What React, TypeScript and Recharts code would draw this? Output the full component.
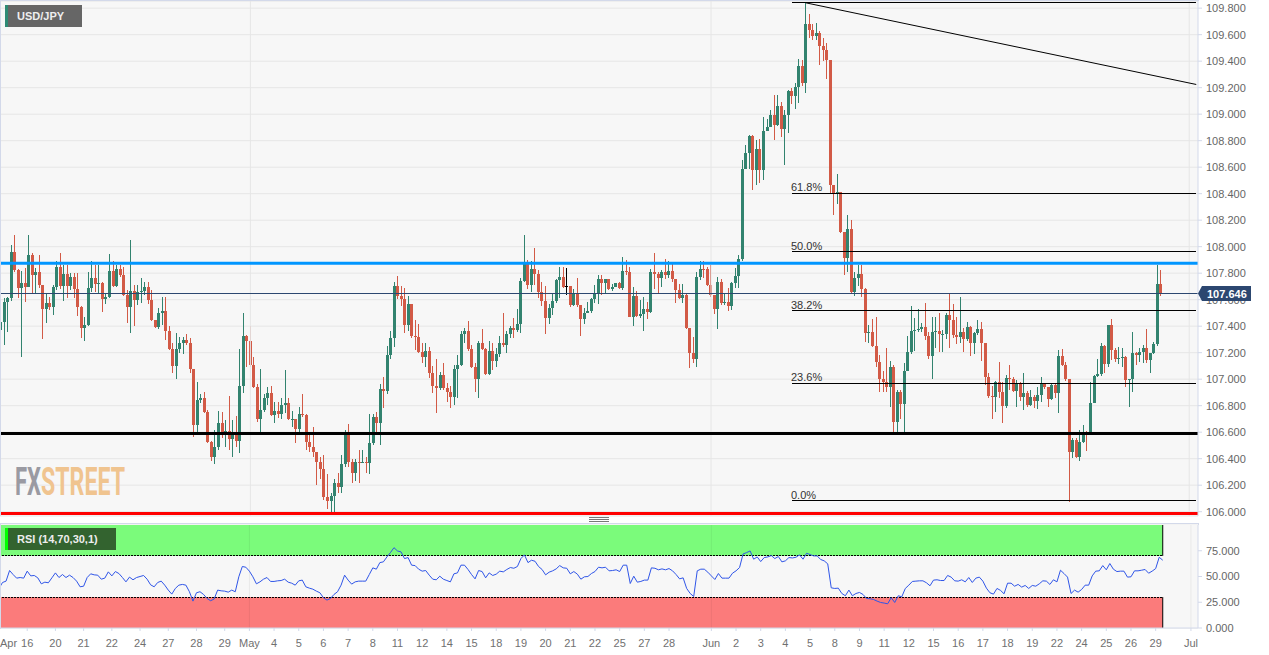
import React from "react";
import {
  Bar,
  CartesianGrid,
  ComposedChart,
  Line,
  ReferenceArea,
  ReferenceLine,
  XAxis,
  YAxis,
} from "recharts";

const firstOpen = 107.371;

const closes = [
  107.429, 107.585, 107.615, 107.962, 107.824, 107.686, 107.723, 107.698, 107.937, 107.786,
  107.806, 107.711, 107.527, 107.578, 107.542, 107.698, 107.844, 107.703, 107.791, 107.703,
  107.769, 107.678, 107.547, 107.384, 107.409, 107.686, 107.761, 107.718, 107.728, 107.603,
  107.618, 107.814, 107.703, 107.829, 107.786, 107.635, 107.542, 107.668, 107.598, 107.661,
  107.668, 107.698, 107.598, 107.447, 107.396, 107.497, 107.515, 107.364, 107.225, 107.099,
  107.225, 107.276, 107.296, 107.276, 107.074, 106.654, 106.843, 106.856, 106.755, 106.528,
  106.41, 106.486, 106.672, 106.604, 106.612, 106.546, 106.591, 106.531, 106.951, 107.329,
  107.286, 107.11, 106.944, 106.697, 106.767, 106.856, 106.898, 106.73, 106.76, 106.737,
  106.805, 106.818, 106.697, 106.702, 106.624, 106.735, 106.73, 106.523, 106.486, 106.453,
  106.372, 106.32, 106.108, 106.08, 106.12, 106.219, 106.184, 106.357, 106.578, 106.372,
  106.294, 106.372, 106.365, 106.372, 106.365, 106.516, 106.712, 106.667, 106.923, 106.913,
  107.18, 107.308, 107.703, 107.628, 107.603, 107.409, 107.567, 107.326, 107.321, 107.203,
  107.17, 107.215, 107.049, 106.951, 106.931, 107.029, 106.936, 106.906, 106.868, 107.074,
  107.104, 107.338, 107.361, 107.225, 107.094, 106.999, 107.276, 107.228, 107.037, 107.215,
  107.137, 107.187, 107.276, 107.258, 107.338, 107.384, 107.371, 107.416, 107.744, 107.887,
  107.711, 107.829, 107.791, 107.655, 107.593, 107.459, 107.54, 107.593, 107.749, 107.774,
  107.698, 107.703, 107.56, 107.648, 107.56, 107.452, 107.502, 107.515, 107.605, 107.64,
  107.754, 107.723, 107.754, 107.681, 107.698, 107.723, 107.686, 107.819, 107.809, 107.472,
  107.63, 107.477, 107.492, 107.527, 107.51, 107.811, 107.796, 107.761, 107.811, 107.786,
  107.819, 107.754, 107.673, 107.615, 107.635, 107.389, 107.2, 107.15, 107.769, 107.834,
  107.829, 107.711, 107.635, 107.527, 107.731, 107.572, 107.58, 107.555, 107.723, 107.781,
  107.905, 108.588, 108.707, 108.832, 108.581, 108.739, 108.581, 108.873, 108.903, 108.996,
  108.915, 109.061, 108.89, 108.996, 109.172, 109.137, 109.205, 109.363, 109.235, 109.683,
  109.633, 109.59, 109.612, 109.512, 109.487, 109.411, 108.468, 108.4, 108.412, 108.108,
  107.917, 108.136, 107.657, 107.766, 107.796, 107.683, 107.346, 107.359, 107.25, 107.127,
  107.001, 106.981, 106.939, 107.089, 106.679, 106.9, 106.813, 107.064, 107.203, 107.364,
  107.371, 107.379, 107.391, 107.326, 107.175, 107.354, 107.364, 107.338, 107.341, 107.485,
  107.447, 107.333, 107.321, 107.359, 107.301, 107.396, 107.271, 107.346, 107.376, 107.271,
  107.019, 106.875, 106.868, 106.981, 106.906, 106.798, 107.011, 107.004, 106.913, 106.974,
  106.868, 106.898, 106.805, 106.868, 106.838, 106.88, 106.961, 106.939, 106.848, 106.954,
  106.898, 107.175, 107.107, 106.999, 106.453, 106.541, 106.415, 106.528, 106.604, 106.601,
  106.823, 107.027, 107.037, 107.25, 107.115, 107.406, 107.22, 107.15, 107.157, 107.165,
  106.994, 106.999, 107.195, 107.185, 107.208, 107.233, 107.145, 107.195, 107.263, 107.716,
  107.646,
];

const highs = [
  107.52, 107.61, 107.62, 108.01, 108.09, 107.83, 107.82, 107.84, 108.09, 107.95,
  107.84, 107.94, 107.71, 107.65, 107.62, 107.71, 107.89, 107.95, 107.86, 107.86,
  107.8, 107.8, 107.8, 107.55, 107.47, 107.81, 107.895, 107.86, 107.86, 107.73,
  107.65, 107.945, 107.89, 107.86, 107.86, 107.85, 107.67, 108.05, 107.71, 107.71,
  107.76, 107.735, 107.735, 107.67, 107.45, 107.535, 107.62, 107.62, 107.4, 107.27,
  107.35, 107.32, 107.315, 107.34, 107.31, 107.075, 106.975, 106.89, 106.9, 106.77,
  106.535, 106.62, 106.76, 106.755, 106.695, 106.875, 106.69, 106.725, 107.225, 107.5,
  107.33, 107.4, 107.165, 106.96, 107.08, 106.89, 106.94, 106.945, 106.83, 106.83,
  106.855, 107.07, 106.855, 106.76, 106.7, 106.79, 106.89, 106.74, 106.58, 106.64,
  106.45, 106.41, 106.43, 106.285, 106.14, 106.25, 106.295, 106.43, 106.62, 106.66,
  106.4, 106.4, 106.465, 106.465, 106.415, 106.74, 106.735, 106.755, 106.964, 107.014,
  107.25, 107.36, 107.735, 107.775, 107.7, 107.685, 107.63, 107.567, 107.45, 107.42,
  107.27, 107.27, 107.24, 107.1, 107.15, 107.057, 107.12, 106.97, 106.945, 107.107,
  107.18, 107.365, 107.385, 107.44, 107.26, 107.12, 107.285, 107.376, 107.234, 107.29,
  107.276, 107.234, 107.326, 107.5, 107.36, 107.4, 107.46, 107.527, 107.76, 108.09,
  107.9, 107.89, 107.99, 107.824, 107.735, 107.7, 107.567, 107.648, 107.754, 107.85,
  107.85, 107.836, 107.7, 107.678, 107.76, 107.56, 107.54, 107.585, 107.61, 107.71,
  107.786, 107.786, 107.754, 107.754, 107.718, 107.728, 107.735, 107.92, 107.9, 107.844,
  107.693, 107.665, 107.6, 107.62, 107.58, 107.83, 107.95, 107.81, 107.824, 107.905,
  107.895, 107.874, 107.754, 107.716, 107.716, 107.645, 107.39, 107.315, 107.81, 107.89,
  107.895, 107.844, 107.86, 107.635, 107.77, 107.754, 107.648, 107.686, 107.736, 107.84,
  107.937, 108.656, 108.77, 108.84, 108.845, 108.802, 108.815, 108.978, 108.966, 109.034,
  109.147, 109.147, 109.092, 109.029, 109.185, 109.2, 109.235, 109.419, 109.406, 109.85,
  109.758, 109.683, 109.69, 109.628, 109.577, 109.537, 109.411, 108.468, 108.546, 108.412,
  108.108, 108.241, 108.198, 107.808, 107.859, 107.859, 107.686, 107.409, 107.452, 107.467,
  107.182, 107.064, 107.233, 107.14, 107.107, 106.918, 106.918, 107.12, 107.326, 107.552,
  107.459, 107.527, 107.427, 107.572, 107.359, 107.467, 107.467, 107.497, 107.371, 107.497,
  107.643, 107.567, 107.467, 107.618, 107.384, 107.434, 107.401, 107.359, 107.447, 107.434,
  107.271, 107.049, 106.949, 106.989, 107.127, 106.981, 107.032, 107.107, 107.019, 106.994,
  106.981, 107.044, 106.91, 106.918, 106.88, 106.944, 107.019, 106.969, 106.944, 106.964,
  106.964, 107.22, 107.225, 107.132, 106.994, 106.553, 106.553, 106.617, 106.654, 106.606,
  106.981, 107.032, 107.15, 107.271, 107.258, 107.409, 107.452, 107.233, 107.245, 107.233,
  107.175, 106.999, 107.359, 107.208, 107.233, 107.258, 107.376, 107.2, 107.283, 107.862,
  107.824,
];

const lows = [
  107.371, 107.258, 107.359, 107.593, 107.811, 107.61, 107.17, 107.585, 107.693, 107.648,
  107.648, 107.686, 107.301, 107.427, 107.522, 107.485, 107.673, 107.678, 107.593, 107.61,
  107.673, 107.61, 107.477, 107.308, 107.288, 107.404, 107.661, 107.661, 107.648, 107.51,
  107.565, 107.61, 107.698, 107.698, 107.774, 107.63, 107.422, 107.346, 107.404, 107.56,
  107.572, 107.635, 107.567, 107.442, 107.384, 107.376, 107.409, 107.296, 107.22, 107.049,
  106.999, 107.195, 107.19, 107.258, 107.044, 106.561, 106.604, 106.818, 106.747, 106.516,
  106.385, 106.357, 106.466, 106.553, 106.491, 106.466, 106.41, 106.491, 106.445, 106.893,
  107.094, 107.089, 106.931, 106.679, 106.604, 106.755, 106.805, 106.725, 106.667, 106.705,
  106.697, 106.742, 106.692, 106.642, 106.516, 106.604, 106.717, 106.466, 106.453, 106.415,
  106.201, 106.244, 106.088, 106.018, 106.0, 106.0, 106.144, 106.139, 106.34, 106.34,
  106.219, 106.232, 106.219, 106.365, 106.294, 106.284, 106.503, 106.604, 106.503, 106.78,
  106.888, 107.15, 107.24, 107.603, 107.552, 107.346, 107.366, 107.308, 107.22, 107.195,
  107.125, 107.089, 107.006, 106.898, 106.742, 106.918, 106.918, 106.825, 106.78, 106.805,
  106.856, 107.099, 107.271, 107.215, 107.082, 106.9, 106.856, 107.22, 107.032, 107.032,
  107.069, 107.089, 107.165, 107.245, 107.2, 107.308, 107.308, 107.359, 107.346, 107.736,
  107.678, 107.661, 107.711, 107.61, 107.552, 107.338, 107.416, 107.485, 107.572, 107.61,
  107.686, 107.635, 107.542, 107.555, 107.542, 107.326, 107.416, 107.497, 107.502, 107.572,
  107.567, 107.635, 107.648, 107.673, 107.668, 107.693, 107.683, 107.673, 107.786, 107.467,
  107.404, 107.467, 107.459, 107.366, 107.457, 107.497, 107.678, 107.648, 107.698, 107.754,
  107.761, 107.736, 107.572, 107.603, 107.578, 107.376, 107.082, 107.125, 107.089, 107.749,
  107.761, 107.706, 107.618, 107.492, 107.376, 107.56, 107.56, 107.517, 107.522, 107.686,
  107.686, 107.892, 108.583, 108.588, 108.425, 108.468, 108.48, 108.5, 108.873, 108.903,
  108.802, 108.908, 108.827, 108.619, 108.86, 109.079, 109.041, 109.087, 109.21, 109.16,
  109.577, 109.562, 109.562, 109.373, 109.401, 109.268, 108.405, 108.236, 108.324, 108.103,
  107.783, 107.808, 107.645, 107.625, 107.7, 107.62, 107.283, 107.271, 107.245, 107.089,
  106.9, 106.9, 106.9, 106.793, 106.579, 106.604, 106.7, 106.604, 107.064, 107.19,
  107.215, 107.359, 107.359, 107.296, 107.15, 107.001, 107.233, 107.208, 107.208, 107.301,
  107.233, 107.308, 107.266, 107.271, 107.208, 107.291, 107.175, 107.19, 107.333, 107.14,
  106.956, 106.855, 106.7, 106.755, 106.855, 106.672, 106.78, 106.918, 106.906, 106.793,
  106.838, 106.767, 106.793, 106.8, 106.78, 106.775, 106.83, 106.923, 106.793, 106.843,
  106.855, 106.742, 107.099, 106.989, 106.075, 106.408, 106.408, 106.385, 106.516, 106.46,
  106.591, 106.818, 107.019, 107.024, 107.049, 107.094, 107.145, 107.132, 107.112, 107.089,
  106.939, 106.793, 106.906, 107.107, 107.132, 107.12, 107.12, 107.044, 107.19, 107.25,
  107.63,
];

const rsiValues = [
  38.4, 44.2, 45.5, 55.8, 51.9, 48.4, 49, 48.4, 55.2, 50.6,
  51, 48.7, 42.9, 44.5, 43.9, 48.7, 53.5, 49, 51.9, 49,
  51.3, 49, 45.5, 40, 40.6, 49, 52.6, 51.6, 51.3, 47.4,
  48.4, 54.5, 50.6, 54.8, 52.9, 49, 44.8, 49.4, 46.8, 49,
  50, 51, 47.4, 41.9, 40, 44.2, 45.5, 41.6, 36.8, 32.9,
  38.4, 41.6, 42.3, 41.6, 35.2, 26.1, 34.2, 35.2, 32.6, 28.7,
  26.5, 28.1, 36.8, 36.1, 35.8, 34.8, 36.8, 35.2, 49.7, 59.7,
  59, 55.2, 49.7, 42.9, 44.8, 47.4, 49, 45.2, 45.2, 45.8,
  46.1, 47.4, 44.5, 43.5, 41.6, 45.8, 46.5, 40, 38.7, 37.7,
  35.8, 34.2, 29.4, 27.1, 28.7, 32.6, 35.2, 41.6, 51.3, 46.5,
  42.6, 44.8, 45.5, 45.5, 45.5, 51.9, 58.4, 57.1, 63.5, 64.2,
  69, 73.2, 78, 74.8, 73.9, 67.4, 68.4, 61, 60.6, 57.1,
  55.2, 55.8, 51.3, 47.4, 46.8, 50.3, 47.4, 46.1, 44.8, 52.6,
  53.5, 61, 61, 56.8, 51.9, 47.7, 55.8, 54.8, 48.7, 53.5,
  51, 52.3, 55.2, 54.5, 56.8, 58.7, 58, 59.7, 67.4, 71,
  63.5, 65.8, 64.8, 59.7, 56.8, 51.6, 54.2, 55.5, 57.4, 60.6,
  58.4, 58, 52.6, 54.8, 52.3, 47.4, 49.7, 50, 52.9, 54.8,
  59, 58.4, 59, 55.5, 55.8, 56.5, 54.8, 61, 61, 43.2,
  50.3, 44.5, 45.2, 46.5, 46.5, 58.4, 58, 56.5, 57.4, 56.5,
  57.7, 55.5, 51.9, 47.7, 48.7, 38.4, 33.5, 30.6, 55.5, 57.1,
  57.1, 54.2, 50.6, 47.1, 52.9, 48.4, 48.4, 48.4, 53.2, 55.5,
  58.7, 71.9, 73.2, 74.8, 66.8, 69, 64.5, 68.4, 69, 70.3,
  67.4, 69.4, 64.2, 65.2, 68.4, 68, 68.7, 71, 66.8, 72.6,
  71.3, 70, 70, 66.5, 65.2, 62.3, 39, 38.4, 38.7, 33.5,
  31.3, 36.8, 31.3, 33.5, 34.5, 32.6, 28.7, 28.4, 27.7, 26.1,
  24.8, 24.2, 23.5, 29.4, 24.8, 31.3, 30.3, 38.4, 41.6, 45.2,
  45.5, 45.8, 45.8, 43.9, 41, 46.5, 46.8, 46.1, 46.1, 51,
  49.4, 45.8, 45.5, 46.8, 44.8, 49, 44.2, 48.4, 49.4, 45.5,
  38.7, 34.2, 32.9, 38.4, 36.5, 33.2, 43.5, 43.5, 40.6, 42.3,
  39.7, 41.3, 38.4, 41.3, 40.6, 42.9, 45.8, 45.5, 42.3, 46.8,
  44.8, 56.1, 52.9, 49.4, 33.5, 36.8, 34.8, 37.4, 41.6, 41.6,
  50.6, 55.2, 55.5, 60.6, 56.5, 62.6, 57.1, 54.8, 55.2, 55.2,
  49.4, 49.7, 55.5, 55.5, 56.1, 56.8, 53.2, 55.2, 57.7, 68.7,
  65.8,
];

const slotCount = 341;
const markedCandles = [161];

const tickIndexes = [
  0, 8, 16, 24, 32, 40, 48, 56, 64, 71, 78, 85, 92, 99, 106, 113, 120, 127, 134, 141, 148, 155, 162,
  169, 176, 183, 190, 202, 209, 216, 223, 230, 237, 244, 251, 258, 265, 272, 279, 286, 293, 300,
  307, 314, 321, 328, 338,
];
const tickLabels = [
  "Apr", "16", "20", "21", "22", "24", "27", "28", "29", "May", "4", "5", "6", "7", "8", "11", "12",
  "14", "15", "18", "19", "20", "21", "22", "25", "27", "28", "Jun", "2", "3", "4", "5", "8", "9",
  "11", "12", "15", "16", "17", "18", "19", "22", "24", "25", "26", "29", "Jul",
];
const monthTicks = [71, 202, 338];

const priceTicks = [
  106, 106.2, 106.4, 106.6, 106.8, 107, 107.2, 107.4, 107.6, 107.8, 108, 108.2, 108.4, 108.6, 108.8,
  109, 109.2, 109.4, 109.6, 109.8,
];
const rsiTicks = [0, 25, 50, 75];

const lastPrice = 107.646;
const resistanceLevel = 107.874;
const supportLevel = 106.59;
const floorLevel = 105.987;
const fibLevels = [
  { label: "100.0%", price: 109.84 },
  { label: "61.8%", price: 108.4 },
  { label: "50.0%", price: 107.965 },
  { label: "38.2%", price: 107.52 },
  { label: "23.6%", price: 106.97 },
  { label: "0.0%", price: 106.085 },
];
const fibStart = 225;
const fibEnd = 340;
const trendLine = [
  { x: 229, y: 109.84 },
  { x: 340, y: 109.224 },
];

const rows = Array.from({ length: slotCount }, (_, i) => ({
  i,
  open: i < closes.length ? (i === 0 ? firstOpen : closes[i - 1]) : null,
  close: i < closes.length ? closes[i] : null,
  high: i < closes.length ? highs[i] : null,
  low: i < closes.length ? lows[i] : null,
  rsi: i < rsiValues.length ? rsiValues[i] : null,
}));

const GREEN = "#32836f";
const RED = "#d25a46";
const FONT = '"Liberation Sans", Arial, sans-serif';

function Candle(props: any) {
  const { x, y, height, payload } = props;
  if (payload == null || payload.high == null) return null;
  const span = payload.high - payload.low;
  const k = span > 0 ? height / span : 0;
  const top = y + (payload.high - Math.max(payload.open, payload.close)) * k;
  const bodyH = Math.max(1, Math.abs(payload.open - payload.close) * k);
  const marked = markedCandles.includes(payload.i);
  const color = marked ? "#000" : payload.close >= payload.open ? GREEN : RED;
  const left = Math.round(x);
  return (
    <g shapeRendering="crispEdges">
      <rect x={left + 1} y={y} width={1} height={Math.max(1, height)} fill={color} />
      {marked ? (
        <rect x={left} y={top} width={3} height={1} fill={color} />
      ) : (
        <rect x={left} y={top} width={3} height={bodyH} fill={color} />
      )}
    </g>
  );
}

function DateTick(props: any) {
  const { x, y, payload } = props;
  const pos = tickIndexes.indexOf(payload.value);
  const label = tickLabels[pos];
  return (
    <text
      x={pos === 0 ? x + 1 : x}
      y={y + 14}
      textAnchor={pos === 0 ? "start" : "middle"}
      fontSize={11}
      fontFamily={FONT}
      fill="#707070"
    >
      {label}
    </text>
  );
}

const yTick = { fontSize: 11, fontFamily: FONT, fill: "#666" };
const AXIS = "#d3d9ea";

function Pill({ left, top, width, height, bg, strip, text }: any) {
  return (
    <div
      style={{
        position: "absolute",
        left,
        top,
        width,
        height,
        background: bg,
        borderLeft: `3px solid ${strip}`,
        boxSizing: "border-box",
        color: "#eee",
        fontFamily: FONT,
        fontWeight: 700,
        fontSize: 11,
        lineHeight: `${height}px`,
        paddingLeft: 9,
        whiteSpace: "nowrap",
      }}
    >
      {text}
    </div>
  );
}

const fibLabelTops = [-10, 181, 240, 299, 371, 489];

export default function App() {
  return (
    <div
      style={{
        position: "fixed",
        left: 0,
        top: 0,
        width: 1269,
        height: 655,
        overflow: "hidden",
        background: "#fff",
      }}
    >
      <div style={{ position: "absolute", left: -1.46, top: 0 }}>
        <ComposedChart
          width={1271}
          height={517}
          data={rows}
          margin={{ top: 1, right: 0, bottom: 1, left: 0 }}
          barCategoryGap={0}
        >
          <CartesianGrid fill="#f7f7f7" stroke="#e6e6e6" vertical={false} />
          <XAxis dataKey="i" hide />
          <YAxis
            orientation="right"
            width={72}
            domain={[105.9675, 109.854]}
            allowDataOverflow
            ticks={priceTicks}
            interval={0}
            tickFormatter={(v: number) => v.toFixed(3)}
            tick={yTick}
            tickSize={4}
            tickMargin={4}
            stroke={AXIS}
          />
          {monthTicks.map((m) => (
            <ReferenceLine key={m} x={m} stroke="#e6e6e6" />
          ))}
          <Bar
            dataKey={(d: any) => (d.high == null ? null : [d.low, d.high])}
            barSize={3}
            shape={Candle}
            isAnimationActive={false}
          />
          <ReferenceLine y={lastPrice} stroke="#2c4770" strokeWidth={1} shapeRendering="crispEdges" />
          {fibLevels.map((f) => (
            <ReferenceLine
              key={f.label}
              stroke="#000"
              strokeWidth={1}
              shapeRendering="crispEdges"
              segment={[
                { x: fibStart, y: f.price },
                { x: fibEnd, y: f.price },
              ]}
            />
          ))}
          <ReferenceLine stroke="#000" strokeWidth={1} segment={trendLine} />
          <ReferenceLine y={resistanceLevel} stroke="#0096ff" strokeWidth={3} />
          <ReferenceLine y={supportLevel} stroke="#000" strokeWidth={3} />
          <ReferenceLine y={floorLevel} stroke="#ff0000" strokeWidth={3} />
        </ComposedChart>
      </div>

      <div style={{ position: "absolute", left: -1.46, top: 524 }}>
        <ComposedChart
          width={1271}
          height={131}
          data={rows}
          margin={{ top: 1, right: 0, bottom: 0, left: 0 }}
        >
          <ReferenceArea x1={0} x2={340} y1={0} y2={100} fill="#f7f7f7" fillOpacity={1} stroke="none" />
          <CartesianGrid stroke="#e6e6e6" vertical={false} />
          <XAxis
            dataKey="i"
            ticks={tickIndexes}
            interval={0}
            tick={DateTick}
            tickSize={3}
            height={27}
            stroke={AXIS}
          />
          <YAxis
            orientation="right"
            width={72}
            domain={[0, 100]}
            ticks={rsiTicks}
            interval={0}
            tickFormatter={(v: number) => v.toFixed(3)}
            tick={yTick}
            tickSize={4}
            tickMargin={4}
            stroke={AXIS}
          />
          <ReferenceArea x1={0} x2={330} y1={70} y2={100} fill="#00ff00" fillOpacity={0.5} stroke="none" />
          <ReferenceArea x1={0} x2={330} y1={0} y2={30} fill="#ff0000" fillOpacity={0.5} stroke="none" />
          {monthTicks.map((m) => (
            <ReferenceLine key={m} x={m} stroke="#000" strokeOpacity={0.06} />
          ))}
          <ReferenceLine
            stroke="#000"
            strokeDasharray="2 1"
            shapeRendering="crispEdges"
            segment={[
              { x: 0, y: 70 },
              { x: 330, y: 70 },
            ]}
          />
          <ReferenceLine
            stroke="#000"
            strokeDasharray="2 1"
            shapeRendering="crispEdges"
            segment={[
              { x: 0, y: 30 },
              { x: 330, y: 30 },
            ]}
          />
          {[0, 330].map((edge) => (
            <React.Fragment key={edge}>
              <ReferenceLine
                stroke="#000"
                segment={[
                  { x: edge, y: 70 },
                  { x: edge, y: 100 },
                ]}
              />
              <ReferenceLine
                stroke="#000"
                segment={[
                  { x: edge, y: 0 },
                  { x: edge, y: 30 },
                ]}
              />
            </React.Fragment>
          ))}
          <Line
            dataKey="rsi"
            type="linear"
            stroke="#2f55e8"
            strokeWidth={1}
            dot={false}
            connectNulls={false}
            isAnimationActive={false}
          />
        </ComposedChart>
      </div>

      {/* pane borders */}
      <div style={{ position: "absolute", left: 0, top: 0, width: 1199, height: 1, background: AXIS }} />
      <div style={{ position: "absolute", left: 0, top: 0, width: 1, height: 516, background: AXIS }} />
      <div style={{ position: "absolute", left: 0, top: 523, width: 1199, height: 1, background: AXIS }} />
      <div style={{ position: "absolute", left: 0, top: 523, width: 1, height: 106, background: AXIS }} />
      <div style={{ position: "absolute", left: 1198, top: 523, width: 1, height: 2, background: AXIS }} />

      {/* pane grip */}
      {[517, 519, 521].map((t) => (
        <div key={t} style={{ position: "absolute", left: 589, top: t, width: 20, height: 1, background: "#777" }} />
      ))}

      {/* fibonacci labels */}
      {fibLevels.map((f, n) => (
        <div
          key={f.label}
          style={{
            position: "absolute",
            left: 791,
            top: fibLabelTops[n],
            fontFamily: FONT,
            fontSize: 11,
            lineHeight: "13px",
            color: "#333",
          }}
        >
          {f.label}
        </div>
      ))}

      <Pill left={5} top={5} width={77} height={22} bg="#666" strip="#2e8a74" text="USD/JPY" />
      <Pill left={5} top={528} width={111} height={22} bg="#33632f" strip="#00ff00" text="RSI (14,70,30,1)" />

      {/* last price tag */}
      <div
        style={{
          position: "absolute",
          left: 1198,
          top: 286,
          width: 53,
          height: 15,
          background: "#2c4770",
          clipPath: "polygon(0 50%, 4px 0, 100% 0, 100% 100%, 4px 100%)",
          color: "#fff",
          fontFamily: FONT,
          fontWeight: 700,
          fontSize: 11,
          lineHeight: "16px",
          paddingLeft: 9,
          boxSizing: "border-box",
        }}
      >
        107.646
      </div>

      {/* watermark */}
      <svg style={{ position: "absolute", left: 0, top: 460 }} width={140} height={45}>
        <text
          x={15}
          y={35}
          fontFamily="Roboto, sans-serif"
          fontWeight={700}
          fontSize={38}
          fill="#9a9aa2"
          textLength={26}
          lengthAdjust="spacingAndGlyphs"
        >
          FX
        </text>
        <text
          x={41}
          y={35}
          fontFamily="Roboto, sans-serif"
          fontWeight={700}
          fontSize={38}
          fill="#f0c48f"
          textLength={84}
          lengthAdjust="spacingAndGlyphs"
        >
          STREET
        </text>
      </svg>
    </div>
  );
}
